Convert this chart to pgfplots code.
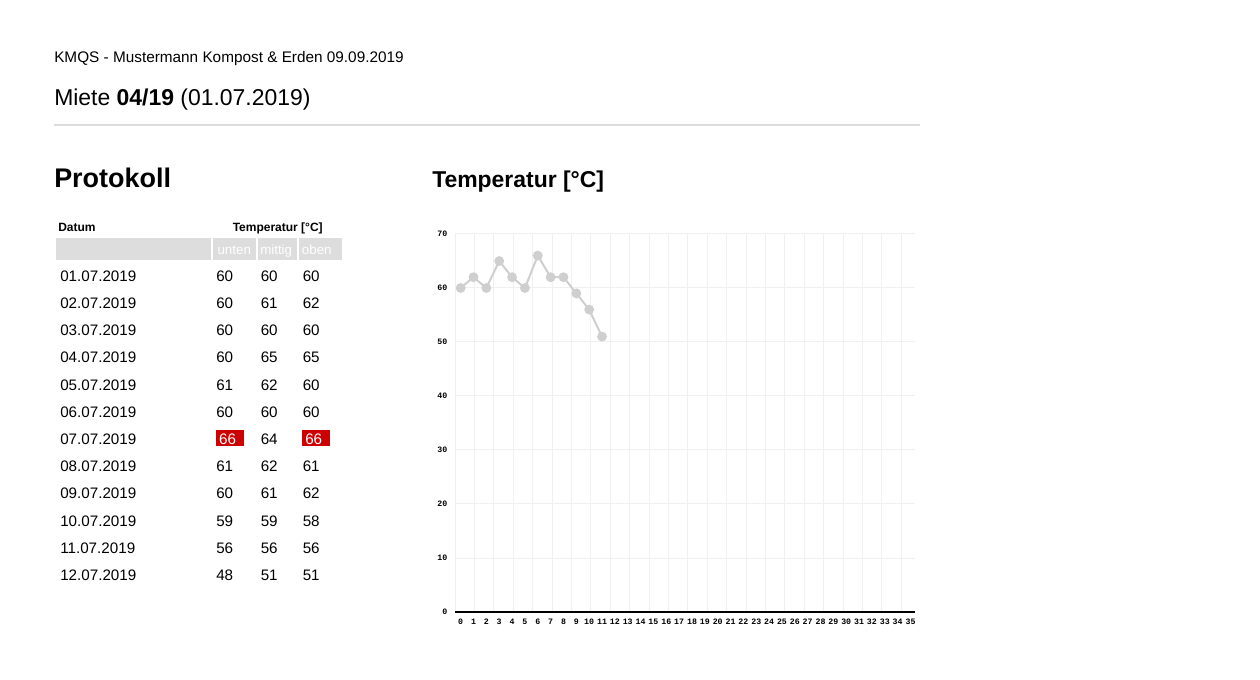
\documentclass[border=0pt]{standalone}
\usepackage{pgfplots}
\pgfplotsset{compat=1.18}
\usepackage{fontspec}
\setmainfont{Liberation Sans}
\newfontfamily\tickfont{Liberation Mono}

\definecolor{gridgray}{HTML}{F0F0F0}
\definecolor{linegray}{HTML}{CFCFCF}
\definecolor{headgray}{HTML}{DDDDDD}
\definecolor{rulegray}{HTML}{DCDCDC}
\definecolor{hot}{HTML}{CC0000}

\begin{document}
\begin{tikzpicture}
% page layout in pixels (1px = 0.75pt), y pointing down
\begin{scope}[x=0.75pt,y=-0.75pt]
  \useasboundingbox (0,0) rectangle (1260,680);
  \node[anchor=base west,inner sep=0pt,font=\fontsize{11.5}{13}\selectfont] at (54,63)
    {KMQS - Mustermann Kompost \& Erden 09.09.2019};
  \node[anchor=base west,inner sep=0pt,font=\fontsize{17.2}{20}\selectfont] at (54,106)
    {Miete \textbf{04/19} (01.07.2019)};
  \draw[rulegray,line width=1.5pt] (54,125) -- (920,125);

  \node[anchor=base west,inner sep=0pt,font=\fontsize{20.2}{24}\selectfont\bfseries] at (54,188) {Protokoll};
  \node[anchor=base west,inner sep=0pt,font=\fontsize{17.2}{20}\selectfont\bfseries] at (432,188) {Temperatur [°C]};

  % table head
  \node[anchor=base west,inner sep=0pt,font=\fontsize{9}{11}\selectfont\bfseries] at (58,232) {Datum};
  \node[anchor=base west,inner sep=0pt,font=\fontsize{9}{11}\selectfont\bfseries] at (232.5,232) {Temperatur [°C]};
  \fill[headgray] (56,238.5) rectangle (211,260.5);
  \fill[headgray] (213.3,238.5) rectangle (255.7,260.5);
  \fill[headgray] (258.3,238.5) rectangle (296.7,260.5);
  \fill[headgray] (299.3,238.5) rectangle (341.7,260.5);
  \begin{scope}[every node/.style={anchor=base west,inner sep=0pt,text=white,font=\fontsize{10}{12}\selectfont}]
    \node at (217.3,255) {unten};
    \node at (260,255) {mittig};
    \node at (301.7,255) {oben};
  \end{scope}

  % table rows
  \fill[hot] (216,430) rectangle (243.5,445.7);
  \fill[hot] (302.3,430) rectangle (329.5,445.7);
  \begin{scope}[every node/.style={anchor=base west,inner sep=0pt,font=\fontsize{11.4}{13}\selectfont}]
    \foreach \d/\u/\m/\o [count=\i from 0] in {
        01.07.2019/60/60/60, 02.07.2019/60/61/62, 03.07.2019/60/60/60,
        04.07.2019/60/65/65, 05.07.2019/61/62/60, 06.07.2019/60/60/60,
        07.07.2019/{}/64/{}, 08.07.2019/61/62/61, 09.07.2019/60/61/62,
        10.07.2019/59/59/58, 11.07.2019/56/56/56, 12.07.2019/48/51/51} {
      \pgfmathsetmacro\yb{281.4+27.18*\i}
      \node at (60,\yb) {\d};
      \node at (216,\yb) {\u};
      \node at (260.5,\yb) {\m};
      \node at (302.5,\yb) {\o};
    }
    \node[text=white] at (218.8,444.5) {66};
    \node[text=white] at (305,444.5) {66};
  \end{scope}
\end{scope}

\begin{axis}[
    at={(341.25pt,-459pt)}, anchor=south west,
    scale only axis, width=345pt, height=283.5pt,
    xmin=-0.44, xmax=35.35, ymin=0, ymax=70,
    xtick={0,...,35}, ytick={0,10,...,70},
    minor xtick={-0.44,1.07,2.58,4.09,5.60,7.11,8.62,10.13,11.64,13.15,14.66,16.17,
                 17.68,19.19,20.70,22.21,23.72,25.23,26.74,28.25,29.76,31.27,32.78,34.29},
    xminorgrids, ymajorgrids,
    minor grid style={gridgray,line width=0.75pt},
    major grid style={gridgray,line width=0.75pt},
    major tick length=0pt, minor tick length=0pt,
    axis x line*=bottom, axis y line*=left,
    x axis line style={-,black,line width=1.4pt},
    y axis line style={draw=none},
    /pgf/number format/assume math mode=true,
    ticklabel style={font=\tickfont\bfseries\fontsize{6.2}{7}\selectfont,inner sep=0pt},
    xticklabel style={yshift=-5pt},
    yticklabel style={xshift=-5.6pt},
    clip=false,
  ]
  \addplot[linegray,line width=1.5pt,mark=*,mark size=2.9pt,mark options={fill=linegray,draw=linegray}]
    coordinates {(0,60) (1,62) (2,60) (3,65) (4,62) (5,60) (6,66) (7,62) (8,62) (9,59) (10,56) (11,51)};
\end{axis}
\end{tikzpicture}
\end{document}
